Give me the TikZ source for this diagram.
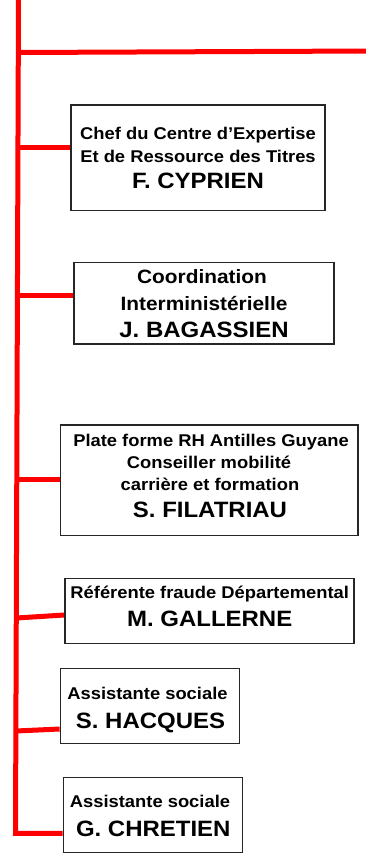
\documentclass[tikz,border=0pt]{standalone}
\usepackage{fontspec}
\setmainfont{Liberation Sans}[FakeStretch=1.08]
\usetikzlibrary{calc,backgrounds}
\begin{document}
\begin{tikzpicture}[x=1pt,y=-1pt,
  redline/.style={draw=red, line width=5pt, line join=miter},
  box/.style={draw=black!85, line width=1.3pt, fill=white, inner sep=0pt},
  sm/.style={anchor=base, inner sep=0pt, font=\bfseries\fontsize{17}{20}\selectfont},
  md/.style={anchor=base, inner sep=0pt, font=\bfseries\fontsize{19.3}{22}\selectfont},
  nm/.style={anchor=base, inner sep=0pt, font=\bfseries\fontsize{22.2}{26}\selectfont}]
\useasboundingbox (0,0) rectangle (366,855);

% boxes
\node[box, minimum width=254pt, minimum height=105.7pt] (b1) at (198,157.9) {};
\node[box, minimum width=260pt, minimum height=81.3pt] (b2) at (204,303.3) {};
\node[box, minimum width=297.3pt, minimum height=110.7pt] (b3) at (209.3,480.3) {};
\node[box, minimum width=289pt, minimum height=65pt] (b4) at (209.5,610.8) {};
\node[box, minimum width=179pt, minimum height=75pt] (b5) at (149.8,705.8) {};
\node[box, minimum width=179.4pt, minimum height=75.4pt] (b6) at (153,815) {};

% trunk and junctions
\coordinate (top) at (18.5,-4);
\coordinate (bot) at (15.5,833.3);
\coordinate (tr) at (370,51);
\coordinate (j0) at (18.31,52.5);
\coordinate (j1) at (17.97,147.7);
\coordinate (j2) at (17.44,295.7);
\coordinate (j3) at (16.77,479.3);
\coordinate (j4) at (16.28,618);
\coordinate (j5) at (15.87,731);
\coordinate (e1) at ($(b1.west)+(0,-10.2)$);
\coordinate (e2) at ($(b2.west)+(0,-7.6)$);
\coordinate (e3) at ($(b3.west)+(0,-1)$);
\coordinate (e4) at ($(b4.west)+(0,4.2)$);
\coordinate (e5) at ($(b5.west)+(0,23.2)$);
\coordinate (e6) at ($(b6.west)+(0,18.3)$);

\begin{scope}[on background layer]
\draw[redline] (top) -- (bot) -- (e6);
\draw[redline] (j0) -- (tr);
\draw[redline] (j1) -- (e1);
\draw[redline] (j2) -- (e2);
\draw[redline] (j3) -- (e3);
\draw[redline] (j4) -- (e4);
\draw[redline] (j5) -- (e5);
\end{scope}

% texts
\node[sm] (t11) at (198,139.3) {Chef du Centre d’Expertise};
\node[sm] (t12) at (198,162.3) {Et de Ressource des Titres};
\node[nm] (t13) at (198,188.3) {F. CYPRIEN};

\node[md] (t21) at (202,283.3) {Coordination};
\node[md] (t22) at (204,310) {Interministérielle};
\node[nm] (t23) at (204,337.3) {J. BAGASSIEN};

\node[sm] (t31) at (211,446) {Plate forme RH Antilles Guyane};
\node[sm] (t32) at (209,468.3) {Conseiller mobilité};
\node[sm] (t33) at (210,490.7) {carrière et formation};
\node[nm] (t34) at (210,517.3) {S. FILATRIAU};

\node[sm] (t41) at (209.7,598.3) {Référente fraude Départemental};
\node[nm] (t42) at (209.7,626.7) {M. GALLERNE};

\node[sm] (t51) at (147.5,699) {Assistante sociale};
\node[nm] (t52) at (150.5,728.3) {S. HACQUES};

\node[sm] (t61) at (150,807.7) {Assistante sociale};
\node[nm] (t62) at (153.3,836.7) {G. CHRETIEN};
\end{tikzpicture}
\end{document}
